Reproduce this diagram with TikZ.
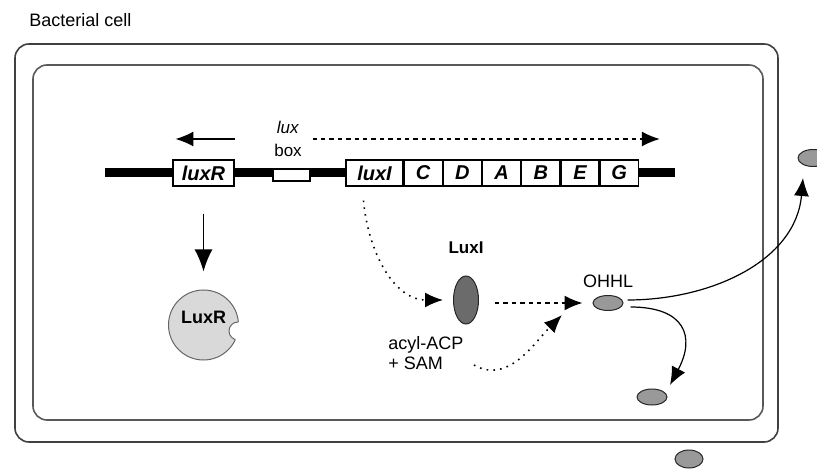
\documentclass[tikz,border=0pt]{standalone}
\usepackage{fontspec}
\setmainfont{Liberation Sans}
\usetikzlibrary{positioning,calc}
\usetikzlibrary{shapes.geometric,arrows.meta}
\tikzset{
  wall/.style={draw=black!75, line width=0.8pt, rounded corners=7pt},
  gene/.style={rectangle, draw=black, fill=white, line width=0.6pt, minimum width=19pt, minimum height=13pt, inner sep=0pt, text centered, font=\fontsize{10}{12}\selectfont\bfseries\itshape},
  mol/.style={ellipse, draw=black!85, fill=black!40, line width=0.5pt, minimum width=15pt, minimum height=7.5pt, inner sep=0pt},
  lbl/.style={font=\fontsize{9}{10}\selectfont},
  sol/.style={-{Latex[length=9pt,width=7.5pt]}, line width=0.8pt},
  dt/.style={sol, dash pattern=on 0.8pt off 2.6pt},
  ds/.style={sol, dash pattern=on 2.2pt off 2pt},
  node distance=7pt
}
\begin{document}
\begin{tikzpicture}[x=0.5pt, y=0.5pt, thick]
\path[use as bounding box, clip] (0,0) rectangle (817,-469);
\node[lbl, anchor=west] (title) at (22,-20) {Bacterial cell};
\draw[wall] (15,-44) rectangle (778,-442);
\draw[wall, draw=black!65] (33,-65) rectangle (763,-420);
% DNA
\coordinate (dnaL) at (105,-173);
\coordinate (dnaR) at (675,-173);
\draw[line width=4.5pt] (dnaL) -- (dnaR);
\node[gene, minimum width=30.5pt] (luxR) at (203.5,-173) {luxR};
\node[draw, fill=white, line width=0.6pt, minimum width=18.5pt, minimum height=6pt, inner sep=0pt] (luxbox) at (291.5,-175) {};
\node[gene, minimum width=28.5pt] (luxI) at (374.5,-173) {luxI};
\node[gene, right=0pt of luxI] (geneC) {C};
\node[gene, right=0pt of geneC] (geneD) {D};
\node[gene, right=0pt of geneD] (geneA) {A};
\node[gene, right=0pt of geneA] (geneB) {B};
\node[gene, right=0pt of geneB] (geneE) {E};
\node[gene, right=0pt of geneE] (geneG) {G};
\node[lbl, font=\fontsize{8.5}{11.5}\selectfont, align=center] (luxlbl) at (288,-139) {\textit{lux}\\box};
\draw[sol, line width=0.7pt] ([yshift=17pt]luxR.east) -- ([xshift=1.5pt,yshift=17pt]luxR.west);
\draw[ds, line width=0.7pt] ([xshift=1pt,yshift=18pt]luxbox.east) -- ([xshift=10.5pt,yshift=17pt]geneG.east);
% LuxR protein
\node[circle, draw=black!60, fill=black!15, line width=0.5pt, minimum size=35pt, inner sep=0pt] (luxRp) at (203.5,-325) {};
\fill[white] (238,-331) circle (4.6pt);
\begin{scope}
\clip (luxRp.center) circle (17.5pt);
\draw[black!60, line width=0.5pt] (238,-331) circle (4.5pt);
\end{scope}
\node[lbl, font=\fontsize{9}{10}\selectfont\bfseries] (luxRtxt) at ([yshift=4pt]luxRp.center) {LuxR};
\draw[sol, -{Latex[length=11pt,width=9pt]}, shorten <=13.5pt, shorten >=9pt] (luxR) -- (luxRp);
% LuxI and OHHL
\node[mol, fill=black!58, minimum width=12.5pt, minimum height=24pt] (luxIp) at (466,-300) {};
\node[lbl, font=\fontsize{8.5}{10}\selectfont\bfseries, above=7pt of luxIp] (luxIlbl) {LuxI};
\node[mol] (ohhl) at (608,-303) {};
\node[lbl, above=0pt of ohhl] (ohhllbl) {OHHL};
\node[lbl, anchor=west, align=left] (acp) at (381,-353) {acyl-ACP\\+ SAM};
\draw[dt] ([xshift=-5.5pt,yshift=-7pt]luxI.south) to[out=-85,in=180] ([xshift=-5pt]luxIp.west);
\draw[ds, shorten <=8pt, shorten >=5pt] (luxIp.east |- ohhl.west) -- (ohhl.west);
\draw[dt] ([xshift=1.5pt,yshift=-6pt]acp.east) to[out=-30,in=225] ([xshift=-23pt,yshift=-6pt]ohhl.center);
% OHHL leaving
\node[mol, minimum width=15pt, minimum height=8.5pt] (outA) at (813,-158) {};
\node[mol, minimum width=15pt, minimum height=8pt] (inMol) at (652,-397) {};
\node[mol, minimum width=14pt, minimum height=9pt] (outB) at (689,-459) {};
\draw[sol, line width=0.6pt] ([xshift=2pt,yshift=1.5pt]ohhl.east) to[out=0,in=-95] ([xshift=-5pt,yshift=-10pt]outA.center);
\draw[sol, line width=0.6pt] ([xshift=3.5pt,yshift=-2pt]ohhl.east) to[out=0,in=62,looseness=1.6] ([xshift=9pt,yshift=6pt]inMol.center);
\end{tikzpicture}
\end{document}
